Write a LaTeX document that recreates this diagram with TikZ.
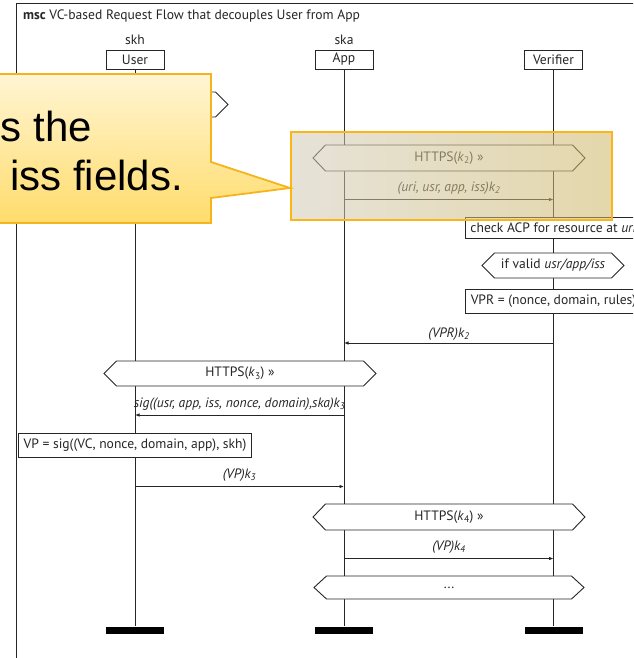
\documentclass[tikz,border=0pt]{standalone}
\usepackage{fontspec}
\newfontfamily\calloutfont{Liberation Sans}
\newfontfamily\mscfont{PT Sans}
\usetikzlibrary{arrows.meta}

\definecolor{ink}{HTML}{262626}
\definecolor{hlborder}{HTML}{FBB514}
\definecolor{hlleft}{HTML}{D3CBB9}
\definecolor{hlright}{HTML}{CDB766}
\definecolor{calltop}{HTML}{FFF5D3}
\definecolor{callbot}{HTML}{FFDC6C}
\definecolor{callborder}{HTML}{F6B41C}

% key with subscript, e.g. k_2
\newcommand\kx[1]{\textit{k}\textsubscript{#1}}

% MSC condition: name, left tip x, right tip x, middle y, half height, text
\newcommand\msccond[6]{%
  \path[draw=ink, line width=0.9pt, fill=white]
    (#2,#4) -- ({#2+12.5},{#4-#5}) -- ({#3-12.5},{#4-#5}) -- (#3,#4)
    -- ({#3-12.5},{#4+#5}) -- ({#2+12.5},{#4+#5}) -- cycle;
  \node[msctext] (#1) at ({(#2+#3)/2},#4) {#6};}

\tikzset{
  msctext/.style={font=\mscfont\fontsize{13.6}{16}\selectfont, text=ink, inner sep=0pt},
  head/.style={msctext, draw=ink, line width=0.9pt, fill=white, minimum width=58pt, minimum height=19pt},
  action/.style={msctext, draw=ink, line width=0.9pt, fill=white, inner xsep=5.5pt, minimum height=23pt},
  endbar/.style={fill=black, draw=none, minimum width=58pt, minimum height=7pt, inner sep=0pt},
  life/.style={draw=ink, line width=0.9pt},
  msg/.style={draw=ink, line width=0.9pt, -{Latex[length=4.5pt,width=3.6pt]}},
  msglabel/.style={msctext, anchor=base, font=\mscfont\itshape\fontsize{13.6}{16}\selectfont},
}

\begin{document}
\begin{tikzpicture}[x=1pt, y=-1pt]
\useasboundingbox (0,0) rectangle (633,658);
\clip (0,0) rectangle (633,658);
\fill[white] (0,0) rectangle (633,658);

% frame and title
\draw[ink, line width=0.9pt] (16,3) rectangle (700,700);
\node[msctext, anchor=base west] (title) at (23,20)
  {\textbf{msc} VC-based Request Flow that decouples User from App};

% instance heads and ends
\node[head] (user) at (135,59.5) {User};
\node[head] (app)  at (344,59.5) {App};
\node[head] (ver)  at (553.5,59.5) {Verifier};
\node[msctext, anchor=base] (skh) at (135,45) {skh};
\node[msctext, anchor=base] (ska) at (344,45) {ska};
\node[endbar] (userend) at (135,630) {};
\node[endbar] (append)  at (344,630) {};
\node[endbar] (verend)  at (553.5,630) {};

% lifelines
\draw[life] (user.south) -- (userend.north);
\draw[life] (app.south) -- (append.north);
\draw[life] (ver.south) -- (verend.north);

% first channel setup on the user side
\msccond{c0}{42}{228}{104.5}{12.5}{}

% request to the verifier
\msccond{c1}{313}{585}{158}{13}{HTTPS(\kx{2}) »}
\draw[msg] (app |- 0,199.5) -- (ver |- 0,199.5);
\node[msglabel] (m1) at (449,191) {(uri, usr, app, iss)\kx{2}};

% verifier checks
\node[action, minimum height=21pt] (acp) at (553.5,228) {check ACP for resource at \textit{uri}};
\msccond{c2}{482}{624}{265.5}{12.5}{if valid \textit{usr/app/iss}}
\node[action, minimum height=24pt] (vpr) at (553.5,301) {VPR = (nonce, domain, rules)};

% presentation request back to the app
\draw[msg] (ver |- 0,343) -- (app |- 0,343);
\node[msglabel] (m2) at (449,337) {(VPR)\kx{2}};

% app to user
\msccond{c3}{104}{376}{373.5}{12.5}{HTTPS(\kx{3}) »}
\draw[msg] (app |- 0,415) -- (user |- 0,415);
\node[msglabel] (m3) at (239.5,407) {sig((usr, app, iss, nonce, domain),ska)\kx{3}};

\node[action, minimum height=24pt] (vp) at (135,445) {VP = sig((VC, nonce, domain, app), skh)};

\draw[msg] (user |- 0,486.5) -- (app |- 0,486.5);
\node[msglabel] (m4) at (239.5,478.5) {(VP)\kx{3}};

% app forwards the presentation
\msccond{c4}{313}{585}{517}{13}{HTTPS(\kx{4}) »}
\draw[msg] (app |- 0,558.5) -- (ver |- 0,558.5);
\node[msglabel] (m5) at (449,550.5) {(VP)\kx{4}};

\msccond{c5}{314}{584}{587.5}{11.5}{...}

% highlight over the verifier request
\path[left color=hlleft, right color=hlright, fill opacity=0.55]
  (291,132) rectangle (612,220);
\draw[hlborder, line width=2pt] (291,132) rectangle (612,220);

% callout pointing at the highlight
\path[top color=calltop, bottom color=callbot, draw=callborder, line width=1.8pt, line join=miter]
  (-10,74) -- (211,74) -- (211,162) -- (290,188) -- (211,198)
  -- (211,223) -- (-10,223) -- cycle;
\node[font=\calloutfont\fontsize{42}{48}\selectfont, anchor=base east, inner sep=0pt] (call1) at (92,142) {s the};
\node[font=\calloutfont\fontsize{42}{48}\selectfont, anchor=base west, inner sep=0pt] (call2) at (10,190) {iss fields.};
\end{tikzpicture}
\end{document}
